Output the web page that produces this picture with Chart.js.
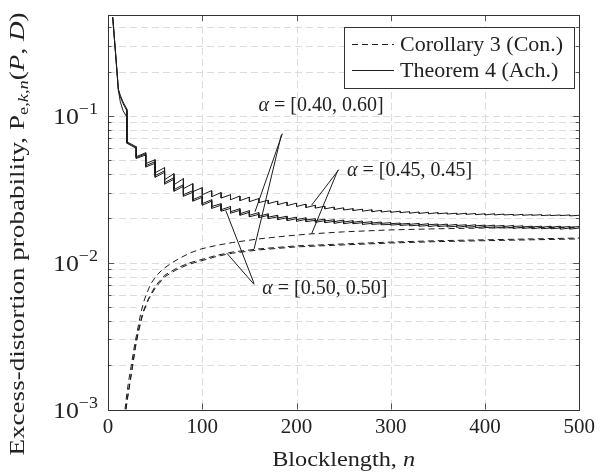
<!DOCTYPE html>
<html>
<head>
<meta charset="utf-8">
<script src="https://cdn.jsdelivr.net/npm/chart.js@4.4.0/dist/chart.umd.min.js"></script>
<style>
  html, body { margin: 0; padding: 0; background: #fff; }
</style>
</head>
<body>
<canvas id="plot" width="600" height="474"></canvas>
<script>
// x / y axis ticks
const xTicks = [0, 100, 200, 300, 400, 500];
const yDecades = [0.001, 0.01, 0.1];
const yExpLabels = ['\u22123', '\u22122', '\u22121'];
const yMax = 0.485;

// Theorem 4 (Ach.): first points, then the sawtooth (peak just before each drop, trough right after)
const headN = [5, 8, 11, 13, 16];
const head045 = [0.47, 0.27, 0.152, 0.138, 0.124];
const head040 = [0.47, 0.268, 0.150, 0.135, 0.121];
const head050 = [0.465, 0.265, 0.149, 0.125, 0.108];

const dropN = [20, 30, 40, 50, 60, 70, 80, 90, 100,
  110, 120, 130, 140, 150, 160, 170, 180, 190, 200,
  210, 220, 230, 240, 250, 260, 270, 280, 290, 300,
  310, 320, 330, 340, 350, 360, 370, 380, 390, 400,
  410, 420, 430, 440, 450, 460, 470, 480, 490, 500];

const peak045 = [0.111, 0.0615, 0.0560, 0.0502, 0.0443, 0.0403, 0.0373, 0.0345, 0.0324,
  0.0309, 0.0300, 0.0290, 0.0284, 0.0279, 0.0273, 0.0266, 0.0262, 0.0258, 0.0254,
  0.0250, 0.0246, 0.0242, 0.0239, 0.0236, 0.0233, 0.0231, 0.0229, 0.0227, 0.0225,
  0.0224, 0.0222, 0.0221, 0.0220, 0.0219, 0.0218, 0.0217, 0.0217, 0.0216, 0.0215,
  0.0215, 0.0214, 0.0213, 0.0213, 0.0212, 0.0212, 0.0211, 0.0211, 0.0211, 0.0210];
const trough045 = [0.0665, 0.0526, 0.0472, 0.0409, 0.0367, 0.0339, 0.0319, 0.0304, 0.0290,
  0.0281, 0.0275, 0.0268, 0.0264, 0.0260, 0.0256, 0.0252, 0.0248, 0.0244, 0.0241,
  0.0237, 0.0235, 0.0232, 0.0230, 0.0228, 0.0226, 0.0224, 0.0222, 0.0221, 0.0220,
  0.0219, 0.0217, 0.0216, 0.0215, 0.0215, 0.0214, 0.0213, 0.0213, 0.0212, 0.0211,
  0.0211, 0.0211, 0.0210, 0.0210, 0.0210, 0.0209, 0.0209, 0.0209, 0.0208];

const peak040 = [0.108, 0.0606, 0.0551, 0.0487, 0.0422, 0.0379, 0.0339, 0.0309, 0.0286,
  0.0268, 0.0252, 0.0241, 0.0233, 0.0226, 0.0219, 0.0215, 0.0210, 0.0207, 0.0204,
  0.0202, 0.0199, 0.0198, 0.0196, 0.0195, 0.0193, 0.0192, 0.0190, 0.0189, 0.0187,
  0.0186, 0.0185, 0.0185, 0.0184, 0.0183, 0.0183, 0.0182, 0.0181, 0.0181, 0.0180,
  0.0180, 0.0179, 0.0179, 0.0178, 0.0177, 0.0177, 0.0177, 0.0177, 0.0176, 0.0176];
const trough040 = [0.0655, 0.0518, 0.0457, 0.0391, 0.0350, 0.0314, 0.0290, 0.0268, 0.0252,
  0.0241, 0.0229, 0.0222, 0.0215, 0.0210, 0.0207, 0.0204, 0.0201, 0.0198, 0.0196,
  0.0195, 0.0193, 0.0192, 0.0190, 0.0189, 0.0188, 0.0187, 0.0186, 0.0185, 0.0184,
  0.0183, 0.0182, 0.0181, 0.0181, 0.0180, 0.0179, 0.0179, 0.0178, 0.0178, 0.0177,
  0.0177, 0.0176, 0.0176, 0.0175, 0.0175, 0.0174, 0.0174, 0.0174, 0.0174];

const peak050 = [0.098, 0.0600, 0.0540, 0.0475, 0.0412, 0.0369, 0.0331, 0.0301, 0.0279,
  0.0262, 0.0246, 0.0234, 0.0227, 0.0220, 0.0213, 0.0210, 0.0205, 0.0202, 0.0199,
  0.0197, 0.0194, 0.0193, 0.0191, 0.0190, 0.0188, 0.0187, 0.0185, 0.0184, 0.0182,
  0.0182, 0.0181, 0.0180, 0.0179, 0.0179, 0.0178, 0.0177, 0.0177, 0.0176, 0.0176,
  0.0175, 0.0175, 0.0174, 0.0174, 0.0173, 0.0173, 0.0172, 0.0172, 0.0172, 0.0172];
const trough050 = [0.0650, 0.0512, 0.0447, 0.0381, 0.0342, 0.0306, 0.0283, 0.0262, 0.0246,
  0.0234, 0.0224, 0.0217, 0.0210, 0.0205, 0.0202, 0.0199, 0.0196, 0.0193, 0.0191,
  0.0190, 0.0188, 0.0187, 0.0185, 0.0184, 0.0184, 0.0182, 0.0182, 0.0181, 0.0180,
  0.0179, 0.0178, 0.0177, 0.0176, 0.0176, 0.0175, 0.0174, 0.0174, 0.0173, 0.0173,
  0.0172, 0.0172, 0.0171, 0.0171, 0.0170, 0.0170, 0.0170, 0.0169, 0.0169];

// Corollary 3 (Con.): smooth curves
const conN045 = [18, 20, 22, 25, 28, 31, 35, 39, 45, 51, 58, 67, 77, 88, 99, 115, 132, 160, 190, 216, 250, 300, 350, 400, 450, 500];
const con045 = [0.001, 0.00128, 0.00158, 0.00205, 0.0027, 0.0034, 0.0046, 0.0057, 0.0071, 0.0081, 0.0090, 0.0099, 0.0108,
  0.0117, 0.0124, 0.0131, 0.0137, 0.0145, 0.0152, 0.0157, 0.0162, 0.0167, 0.0170, 0.0172, 0.0173, 0.0174];
const conN = [19, 21, 23, 26, 29, 32, 37, 43, 50, 60, 72, 85, 97, 115, 132, 160, 200, 250, 300, 350, 400, 450, 500];
const con040 = [0.001, 0.00125, 0.0015, 0.002, 0.0027, 0.0034, 0.0046, 0.0057, 0.0069, 0.0082, 0.0091, 0.0099,
  0.0104, 0.0112, 0.0118, 0.0124, 0.0130, 0.0134, 0.0138, 0.0141, 0.0143, 0.0145, 0.0147];
const con050 = [0.001, 0.00122, 0.00147, 0.00195, 0.00262, 0.0033, 0.0045, 0.0056, 0.0067, 0.0080, 0.0089, 0.0097,
  0.0102, 0.0110, 0.0116, 0.0122, 0.0128, 0.0132, 0.0136, 0.0139, 0.0141, 0.0143, 0.0145];

const legendLabels = ['Corollary 3 (Con.)', 'Theorem 4 (Ach.)'];

// labels with their leader lines, in data coordinates
const notes = [
  { label: ' = [0.40, 0.60]', at: [226, 0.121],
    lines: [[[185, 0.0755], [156, 0.0222]], [[184, 0.0744], [155, 0.0124]]] },
  { label: ' = [0.45, 0.45]', at: [320, 0.0436],
    lines: [[[245, 0.0430], [216, 0.0246]], [[244, 0.0427], [216, 0.0157]]] },
  { label: ' = [0.50, 0.50]', at: [230, 0.00687],
    lines: [[[155, 0.0072], [125, 0.0226]], [[155, 0.0071], [126, 0.0116]]] }
];

const FONT = '"Liberation Serif", "Times New Roman", serif';
const INK = '#222';

function achPoints(head, peaks, troughs) {
  const pts = headN.map((n, i) => ({ x: n, y: head[i] }));
  dropN.forEach((n, i) => {
    pts.push({ x: n, y: peaks[i] });
    if (i < troughs.length) pts.push({ x: n, y: troughs[i] });
  });
  return pts;
}
const pairs = (xs, ys) => xs.map((x, i) => ({ x: x, y: ys[i] }));

const solid = { borderColor: '#1c1c1c', borderWidth: 1, showLine: true, pointRadius: 0, fill: false };
const dashed = Object.assign({}, solid, { borderDash: [6, 4] });

// draw a row of text pieces (italic / sub / superscript); optional width to stretch to
function runs(ctx, parts, x, y, align, width) {
  let w = 0;
  parts.forEach(p => { ctx.font = (p.it ? 'italic ' : '') + p.size + 'px ' + FONT; p.w = ctx.measureText(p.t).width; w += p.w; });
  const sx = width ? width / w : 1;
  const full = w * sx;
  const x0 = align === 'center' ? x - full / 2 : (align === 'right' ? x - full : x);
  ctx.save();
  ctx.translate(x0, y);
  ctx.scale(sx, 1);
  ctx.textAlign = 'left';
  ctx.textBaseline = 'alphabetic';
  let cx = 0;
  parts.forEach(p => {
    ctx.font = (p.it ? 'italic ' : '') + p.size + 'px ' + FONT;
    ctx.fillText(p.t, cx, p.dy || 0);
    cx += p.w;
  });
  ctx.restore();
}

const overlay = {
  id: 'overlay',
  beforeDatasetsDraw(chart) {
    const { ctx, chartArea: a, scales: { x, y } } = chart;
    ctx.save();
    ctx.strokeStyle = '#dcdcdc';
    ctx.lineWidth = 1;
    ctx.setLineDash([7, 4]);
    yDecades.forEach(d => {
      for (let m = 1; m < 10; m++) {
        const v = d * m;
        if (v <= 0.001 || v > yMax) continue;
        const py = Math.round(y.getPixelForValue(v)) + 0.5;
        ctx.beginPath(); ctx.moveTo(a.left, py); ctx.lineTo(a.right, py); ctx.stroke();
      }
    });
    xTicks.slice(1, -1).forEach(v => {
      const px = Math.round(x.getPixelForValue(v)) + 0.5;
      ctx.beginPath(); ctx.moveTo(px, a.top); ctx.lineTo(px, a.bottom); ctx.stroke();
    });
    ctx.restore();
  },
  afterDatasetsDraw(chart) {
    const { ctx, chartArea: a, scales: { x, y } } = chart;
    ctx.save();
    // tick marks, inside, on all four sides
    ctx.strokeStyle = '#555';
    ctx.lineWidth = 1;
    yDecades.forEach(d => {
      for (let m = 1; m < 10; m++) {
        const v = d * m;
        if (v < 0.001 || v > yMax) continue;
        const py = Math.round(y.getPixelForValue(v)) + 0.5;
        const len = m === 1 ? 6 : 3.5;
        ctx.beginPath();
        ctx.moveTo(a.left, py); ctx.lineTo(a.left + len, py);
        ctx.moveTo(a.right, py); ctx.lineTo(a.right - len, py);
        ctx.stroke();
      }
    });
    xTicks.forEach(v => {
      const px = Math.round(x.getPixelForValue(v)) + 0.5;
      ctx.beginPath();
      ctx.moveTo(px, a.bottom); ctx.lineTo(px, a.bottom - 6);
      ctx.moveTo(px, a.top); ctx.lineTo(px, a.top + 6);
      ctx.stroke();
    });
    // frame
    ctx.strokeStyle = '#333';
    ctx.strokeRect(Math.round(a.left) + 0.5, Math.round(a.top) + 0.5,
      Math.round(a.right - a.left), Math.round(a.bottom - a.top));

    // leader lines
    ctx.strokeStyle = '#1c1c1c';
    notes.forEach(n => n.lines.forEach(([p, q]) => {
      ctx.beginPath();
      ctx.moveTo(x.getPixelForValue(p[0]), y.getPixelForValue(p[1]));
      ctx.lineTo(x.getPixelForValue(q[0]), y.getPixelForValue(q[1]));
      ctx.stroke();
    }));
    ctx.fillStyle = INK;
    notes.forEach(n => {
      runs(ctx, [{ t: '\u03b1', size: 20, it: true }, { t: n.label, size: 20 }],
        x.getPixelForValue(n.at[0]), y.getPixelForValue(n.at[1]) + 7, 'center');
    });

    // legend box
    const lx = 344, ly = 27, lw = 230, lh = 61;
    ctx.fillStyle = '#fff';
    ctx.fillRect(lx, ly, lw, lh);
    ctx.strokeStyle = '#333';
    ctx.strokeRect(lx + 0.5, ly + 0.5, lw, lh);
    ctx.strokeStyle = '#1c1c1c';
    [44.5, 70.5].forEach((yy, i) => {
      ctx.setLineDash(i === 0 ? [6, 4] : []);
      ctx.beginPath(); ctx.moveTo(352, yy); ctx.lineTo(394, yy); ctx.stroke();
    });
    ctx.setLineDash([]);
    ctx.fillStyle = INK;
    legendLabels.forEach((t, i) => runs(ctx, [{ t: t, size: 22 }], 400, 51 + i * 26, 'left'));

    // y tick labels 10^k
    yDecades.forEach((d, i) => {
      const py = y.getPixelForValue(d);
      runs(ctx, [{ t: '10', size: 23 }, { t: yExpLabels[i], size: 16, dy: -10 }], 98, py + 8, 'right', 45);
    });

    // axis titles
    runs(ctx, [{ t: 'Blocklength, ', size: 22 }, { t: 'n', size: 22, it: true }],
      (a.left + a.right) / 2, 466, 'center', 143);
    ctx.save();
    ctx.translate(24, 234);
    ctx.rotate(-Math.PI / 2);
    runs(ctx, [
      { t: 'Excess-distortion probability, P', size: 22 },
      { t: 'e,', size: 15, dy: 4 }, { t: 'k', size: 15, it: true, dy: 4 },
      { t: ',', size: 15, dy: 4 }, { t: 'n', size: 15, it: true, dy: 4 },
      { t: '(', size: 22 }, { t: 'P', size: 22, it: true }, { t: ', ', size: 22 },
      { t: 'D', size: 22, it: true }, { t: ')', size: 22 }
    ], 0, 0, 'center', 443);
    ctx.restore();
    ctx.restore();
  }
};

new Chart(document.getElementById('plot'), {
  type: 'scatter',
  data: {
    datasets: [
      Object.assign({ data: achPoints(head045, peak045, trough045) }, solid),
      Object.assign({ data: achPoints(head040, peak040, trough040) }, solid),
      Object.assign({ data: achPoints(head050, peak050, trough050) }, solid),
      Object.assign({ data: pairs(conN045, con045) }, dashed),
      Object.assign({ data: pairs(conN, con040) }, dashed),
      Object.assign({ data: pairs(conN, con050) }, dashed)
    ]
  },
  options: {
    responsive: false,
    animation: false,
    devicePixelRatio: 1,
    layout: { padding: { top: 15, right: 17, left: 0, bottom: 0 } },
    plugins: { legend: { display: false }, tooltip: { enabled: false } },
    elements: { line: { tension: 0 } },
    scales: {
      x: {
        type: 'linear', min: 0, max: 500,
        afterBuildTicks: s => { s.ticks = xTicks.map(v => ({ value: v })); },
        afterFit: s => { s.height = 64.5; },
        grid: { display: false, drawTicks: false },
        border: { display: false },
        ticks: { font: { family: FONT, size: 21 }, color: INK, padding: 5, maxRotation: 0, autoSkip: false }
      },
      y: {
        type: 'logarithmic', min: 0.001, max: yMax,
        afterFit: s => { s.width = 108; },
        grid: { display: false, drawTicks: false },
        border: { display: false },
        ticks: { display: false }
      }
    }
  },
  plugins: [overlay]
});
</script>
</body>
</html>
